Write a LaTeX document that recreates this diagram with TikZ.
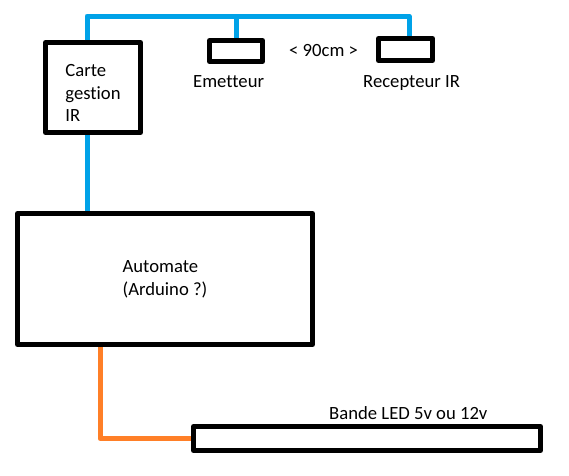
\documentclass[tikz,border=0pt]{standalone}
\usepackage{fontspec}
\setmainfont[Ligatures={NoCommon,NoContextual}]{Carlito}
\definecolor{irblue}{HTML}{00A2E8}
\definecolor{ledorange}{HTML}{FF7F27}

\begin{document}
\begin{tikzpicture}[x=1pt,y=-1pt,line join=round,
    font=\fontsize{18.67}{22.8}\selectfont,
    bloc/.style={draw,line width=5pt,inner sep=0pt},
    legende/.style={anchor=base west,inner sep=0pt},
    ir/.style={irblue,line width=5pt},
    ledline/.style={ledorange,line width=5pt}]
  \useasboundingbox (0,0) rectangle (569,475);

  \node[bloc,minimum width=95pt,minimum height=90pt,align=left] (carte) at (93,87.5) {\rule{0pt}{23pt}Carte\\gestion\\IR};
  \node[bloc,minimum width=53pt,minimum height=21pt] (emet) at (236,51) {};
  \node[bloc,minimum width=54pt,minimum height=22pt] (recep) at (405.5,49.5) {};
  \node[bloc,minimum width=295pt,minimum height=131pt,align=left] (auto) at (165,279) {Automate\\(Arduino ?)};
  \node[bloc,minimum width=347pt,minimum height=24pt] (led) at (367,438.5) {};

  \node[legende] (emetT) at (193,87) {Emetteur};
  \node[legende] (recepT) at (363,87) {Recepteur IR};
  \node[legende] (dist) at (289,56) {< 90cm >};
  \node[legende] (ledT) at (329,419) {Bande LED 5v ou 12v};

  \coordinate (busL) at (87,16);
  \coordinate (busR) at (409,16);
  \coordinate (autoOut) at (100,0);
  \draw[ir] (carte.north -| busL) -- (busL) -- (busR) -- (recep.north -| busR);
  \draw[ir] (emet.north) -- (emet.north |- busL);
  \draw[ir] (carte.south -| busL) -- (auto.north -| busL);
  \draw[ledline] (auto.south -| autoOut) |- (led.west);
\end{tikzpicture}
\end{document}
